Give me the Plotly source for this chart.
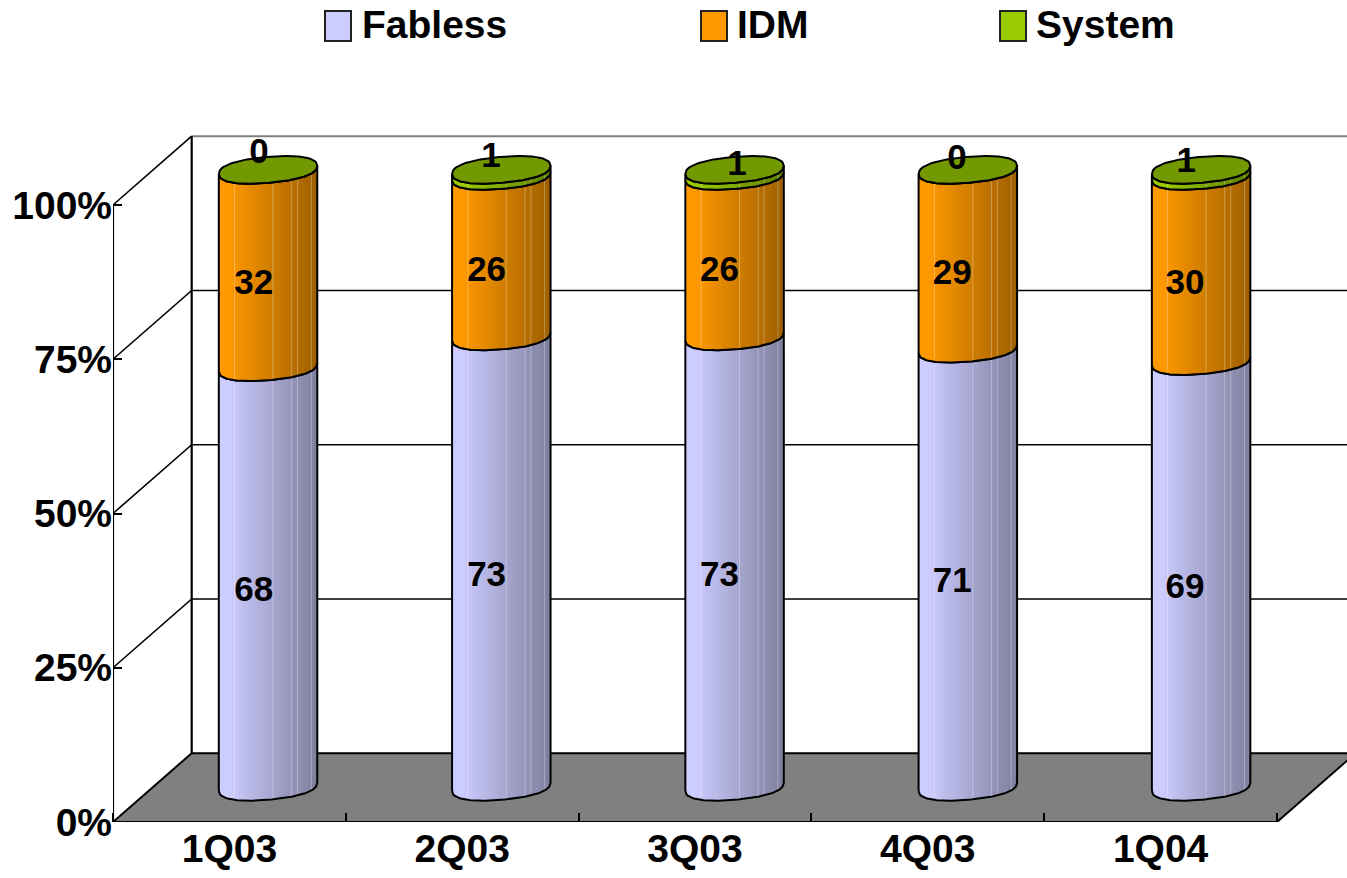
import numpy as np
import plotly.graph_objects as go

quarters = ["1Q03", "2Q03", "3Q03", "4Q03", "1Q04"]
fabless = [68, 73, 73, 71, 69]
idm = [32, 26, 26, 29, 30]
system = [0, 1, 1, 0, 1]
y_ticks = [0, 25, 50, 75, 100]

series_names = ["Fabless", "IDM", "System"]
series_rgb = [(204, 204, 255), (255, 153, 0), (153, 204, 0)]

# hand placed "System" labels, they sit on top of the cylinder caps
system_label_x = [0.127, 0.124, 0.18, 0.125, 0.11]
system_label_y = [108.25, 107.6, 106.3, 107.3, 106.8]

WIDTH, HEIGHT = 1347, 878
M_L, M_R, M_T, M_B = 113, 0, 133, 56
X_MAX = 4.8007
Y_MAX = 111.67
DEPTH_X, DEPTH_Y = 0.338, 11.15  # how far the back wall is shifted from the front frame
CYL_DX, CYL_STEP, CYL_BASE = 0.166, 1.002, 5.7  # cylinder centres, relative to the front frame
RX, RY, TILT = 0.2115, 2.1, 0.65  # ends of the cylinder
END_POWER = 2.3  # the ends are a bit squarer than an ellipse
STRIPS = 30
SEAMS = [-0.68, 0.10, 0.48, 0.60, 0.88]


def bulge(u):
    return np.clip(1 - np.abs(u) ** END_POWER, 0, 1) ** (1 / END_POWER)


def arc(u, level):
    """Front edge of the cylinder end at height level, u runs from -1 to 1."""
    return level - RY * bulge(u) + TILT * u


def shade(rgb, f):
    k = 1 - 0.38 * max(0, (f - 0.1) / 0.9)
    return "rgb(%d,%d,%d)" % tuple(round(c * k) for c in rgb)


def paper_x(px):
    return (px - M_L) / (WIDTH - M_L - M_R)


def paper_y(py):
    return (HEIGHT - M_B - py) / (HEIGHT - M_T - M_B)


fig = go.Figure()

# floor
fig.add_trace(go.Scatter(
    x=[-0.5, -0.5 + DEPTH_X, 4.5 + DEPTH_X, 4.5, -0.5],
    y=[0, DEPTH_Y, DEPTH_Y, 0, 0],
    mode="lines", fill="toself", fillcolor="#808080",
    line=dict(color="black", width=2), cliponaxis=False, hoverinfo="skip",
))

# walls and grid lines
wall_x, wall_y = [], []
for v in y_ticks[1:-1]:
    wall_x += [-0.5, -0.5 + DEPTH_X, X_MAX, None]
    wall_y += [v, v + DEPTH_Y, v + DEPTH_Y, None]
wall_x += [-0.5, -0.5 + DEPTH_X]
wall_y += [100, 100 + DEPTH_Y]
fig.add_trace(go.Scatter(
    x=wall_x, y=wall_y, mode="lines",
    line=dict(color="black", width=1.6), hoverinfo="skip",
))
fig.add_trace(go.Scatter(
    x=[-0.5 + DEPTH_X, X_MAX], y=[100 + DEPTH_Y, 100 + DEPTH_Y], mode="lines",
    line=dict(color="#808080", width=2), cliponaxis=False, hoverinfo="skip",
))
fig.add_trace(go.Scatter(
    x=[-0.5, -0.5, None, -0.5 + DEPTH_X, -0.5 + DEPTH_X, None, -0.5, 4.5],
    y=[0, 100, None, DEPTH_Y, 100 + DEPTH_Y, None, 0, 0],
    mode="lines", line=dict(color="black", width=2.2), cliponaxis=False, hoverinfo="skip",
))

# cylinders, one trace per shade, painted left to right
centres = np.arange(5) * CYL_STEP + CYL_DX
bottoms = np.zeros(5)
edges = np.linspace(-1, 1, STRIPS + 1)
for values, rgb in zip([fabless, idm, system], series_rgb):
    tops = bottoms + np.array(values)
    for j in range(STRIPS):
        u = np.linspace(edges[j], edges[min(j + 2, STRIPS)], 5)
        xs, ys = [], []
        for i in range(5):
            cx = centres[i]
            low = arc(u, bottoms[i] + CYL_BASE)
            high = arc(u, tops[i] + CYL_BASE)
            xs += list(cx + RX * u) + list(cx + RX * u[::-1]) + [cx + RX * u[0], None]
            ys += list(low) + list(high[::-1]) + [low[0], None]
        fig.add_trace(go.Scatter(
            x=xs, y=ys, mode="lines", fill="toself",
            fillcolor=shade(rgb, (j + 0.5) / STRIPS), line=dict(width=0), hoverinfo="skip",
        ))

    seam_x, seam_y = [], []
    out_x, out_y = [], []
    u = np.linspace(-1, 1, 81)
    for i in range(5):
        cx = centres[i]
        for s in SEAMS:
            seam_x += [cx + RX * s, cx + RX * s, None]
            seam_y += [arc(s, bottoms[i] + CYL_BASE), arc(s, tops[i] + CYL_BASE), None]
        low = arc(u, bottoms[i] + CYL_BASE)
        high = arc(u, tops[i] + CYL_BASE)
        out_x += list(cx + RX * u) + list(cx + RX * u[::-1]) + [cx + RX * u[0], None]
        out_y += list(low) + list(high[::-1]) + [low[0], None]
    fig.add_trace(go.Scatter(
        x=seam_x, y=seam_y, mode="lines",
        line=dict(color="rgba(255,255,255,0.3)", width=1), hoverinfo="skip",
    ))
    fig.add_trace(go.Scatter(
        x=out_x, y=out_y, mode="lines",
        line=dict(color="black", width=2), hoverinfo="skip",
    ))
    bottoms = tops

# top caps
u = np.linspace(-1, 1, 81)
cap_x, cap_y = [], []
for i in range(5):
    level = bottoms[i] + CYL_BASE
    cap_x += list(centres[i] + RX * u) + list(centres[i] + RX * u[::-1]) + [None]
    cap_y += list(arc(u, level)) + list((level + RY * bulge(u) + TILT * u)[::-1]) + [None]
fig.add_trace(go.Scatter(
    x=cap_x, y=cap_y, mode="lines", fill="toself", fillcolor="#739900",
    line=dict(color="black", width=2), hoverinfo="skip",
))

# value labels
x_pos = np.arange(5)
fab = np.array(fabless)
dm = np.array(idm)
label_font = dict(family="Liberation Sans", size=35, color="black", weight="bold")
fig.add_trace(go.Scatter(
    x=x_pos + 0.105, y=fab / 2 + 3.2, text=fabless, mode="text",
    textfont=label_font, hoverinfo="skip",
))
fig.add_trace(go.Scatter(
    x=x_pos + 0.105, y=fab + dm / 2 + 3.05, text=idm, mode="text",
    textfont=label_font, hoverinfo="skip",
))
fig.add_trace(go.Scatter(
    x=x_pos + np.array(system_label_x), y=system_label_y, text=system, mode="text",
    textfont=label_font, hoverinfo="skip", cliponaxis=False,
))

# legend, the squares are bigger than a plotly legend can draw them
legend_left = [325, 701, 1000]
legend_text = [362, 737, 1036]
shapes, annotations = [], []
for name, rgb, sq, tx in zip(series_names, series_rgb, legend_left, legend_text):
    shapes.append(dict(
        type="rect", xref="paper", yref="paper",
        x0=paper_x(sq), x1=paper_x(sq + 26), y0=paper_y(41), y1=paper_y(11),
        fillcolor="rgb(%d,%d,%d)" % rgb, line=dict(color="#222222", width=2),
    ))
    annotations.append(dict(
        xref="paper", yref="paper", x=paper_x(tx), y=paper_y(25),
        xanchor="left", yanchor="middle", text=name, showarrow=False,
        xshift=-2, font=dict(family="Liberation Sans", size=39, color="black", weight="bold"),
    ))

axis_font = dict(family="Liberation Sans", size=39, color="black", weight="bold")
fig.update_layout(
    width=WIDTH, height=HEIGHT,
    margin=dict(l=M_L, r=M_R, t=M_T, b=M_B, autoexpand=False),
    paper_bgcolor="white", plot_bgcolor="white",
    showlegend=False, shapes=shapes, annotations=annotations,
    xaxis=dict(
        range=[-0.5, X_MAX], tickvals=x_pos, ticktext=quarters, tickfont=axis_font,
        ticks="", showgrid=False, zeroline=False, showline=False,
        minor=dict(tickvals=[-0.5, 0.5, 1.5, 2.5, 3.5, 4.5], ticks="inside", ticklen=9,
                   tickwidth=1.5, tickcolor="black", showgrid=False),
    ),
    yaxis=dict(
        range=[0, Y_MAX], tickvals=y_ticks, ticktext=["%d%%" % v for v in y_ticks],
        tickfont=axis_font, ticks="inside", ticklen=9, tickwidth=1.5, tickcolor="black",
        showgrid=False, zeroline=False, showline=False,
    ),
)

fig.write_html("out.html", config=dict(displayModeBar=False),
               post_script="document.body.style.margin='0';")
